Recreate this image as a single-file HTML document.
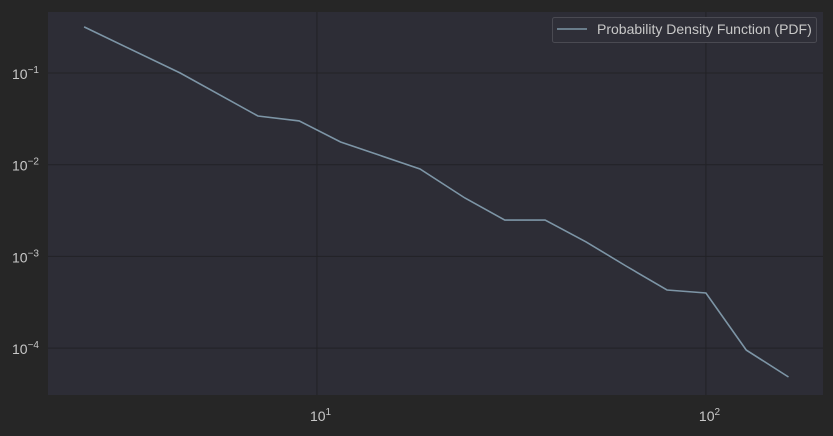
<!DOCTYPE html>
<html><head><meta charset="utf-8"><style>
html,body{margin:0;padding:0;background:#262626;}
svg{display:block;font-family:"Liberation Sans",sans-serif;}
</style></head><body>
<svg id="chart" width="833" height="436" xmlns="http://www.w3.org/2000/svg">
<rect x="0" y="0" width="833" height="436" fill="#262626"/>
<rect x="48" y="12" width="775" height="383" fill="#2d2d36"/>
<g id="grid"></g>
<g id="ticks"></g>
<path id="line" fill="none" stroke="#7d95a6" stroke-width="1.6"/>
<g>
<rect x="552.5" y="17.5" width="264" height="25" rx="2" fill="#2f2f38" stroke="#4a4a52"/>
<line x1="557" y1="29" x2="587" y2="29" stroke="#7d95a6" stroke-width="1.6"/>
<text x="597" y="34" fill="#c8c8c8" font-size="14">Probability Density Function (PDF)</text>
</g>
</svg>
<script>
const xValues=[2.52,4.45,7.05,9.0,11.5,14.4,18.4,24.0,30.4,38.6,49.2,62.3,79.4,100,127,163];
const yValues=[0.318,0.1,0.034,0.030,0.0177,0.0128,0.00897,0.00434,0.00249,0.00249,0.00144,0.000786,0.00043,0.000399,0.0000953,0.0000484];
const xTickExps=[1,2];
const yTickExps=[-1,-2,-3,-4];
const L=48,R=823,T=12,B=395;
const xMin=0.3085,xMax=2.301,yMin=-4.511,yMax=-0.335;
const sx=v=>L+(Math.log10(v)-xMin)/(xMax-xMin)*(R-L);
const sy=v=>T+(yMax-Math.log10(v))/(yMax-yMin)*(B-T);
const NS="http://www.w3.org/2000/svg";
const grid=document.getElementById('grid'),ticks=document.getElementById('ticks');
function mk(tag,attrs,parent){const e=document.createElementNS(NS,tag);for(const k in attrs)e.setAttribute(k,attrs[k]);parent.appendChild(e);return e;}
xTickExps.forEach(e=>{
  const x=sx(Math.pow(10,e));
  const g=mk('line',{x1:x,x2:x,y1:T,y2:B,stroke:'#222226','stroke-width':1},grid);
  
  
  const t=mk('text',{x:x-7,y:B+26,fill:'#c8c8c8','font-size':14},ticks);
  
  
  t.innerHTML='10<tspan dy="-6" font-size="10">'+e+'</tspan>';
});
yTickExps.forEach(e=>{
  const y=sy(Math.pow(10,e));
  const g=mk('line',{x1:L,x2:R,y1:y,y2:y,stroke:'#222226','stroke-width':1},grid);
  
  
  const t=mk('text',{x:12,y:y+6,fill:'#c8c8c8','font-size':14},ticks);
  
  
  t.innerHTML='10<tspan dy="-6" font-size="10">\u2212'+(-e)+'</tspan>';
});
document.getElementById('line').setAttribute('d',xValues.map((v,i)=>(i?'L':'M')+sx(v).toFixed(1)+','+sy(yValues[i]).toFixed(1)).join(''));
</script>
</body></html>
